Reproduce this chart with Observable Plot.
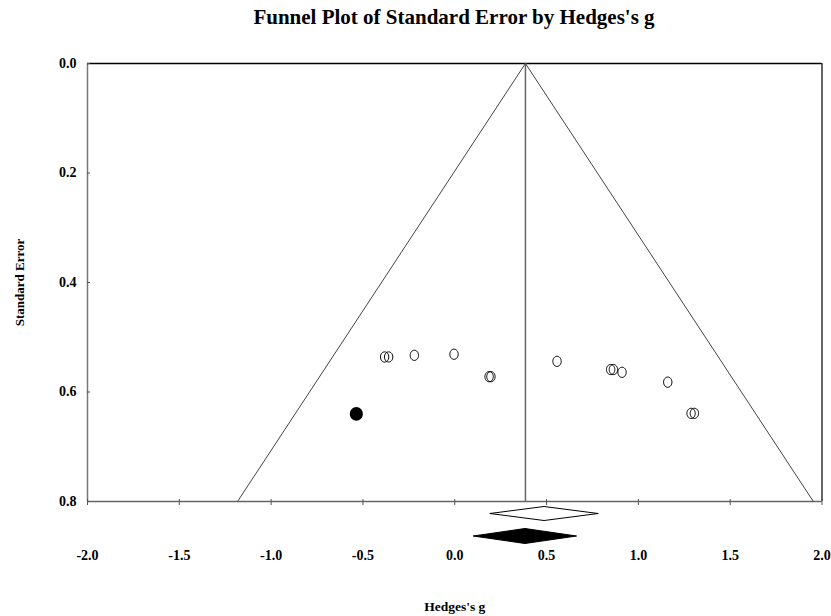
<!DOCTYPE html>
<html>
<head>
<meta charset="utf-8">
<script src="https://cdn.jsdelivr.net/npm/d3@7"></script>
<script src="https://cdn.jsdelivr.net/npm/@observablehq/plot@0.6"></script>
<style>
  body { margin: 0; background: #fff; }
  #wrap { width: 831px; }
  #title {
    height: 40px; box-sizing: border-box; padding-top: 7px; padding-left: 77px;
    text-align: center; font-family: "Liberation Serif", serif; font-weight: bold;
    font-size: 21px; line-height: 1; color: #000;
  }
</style>
</head>
<body>
<div id="wrap">
  <div id="title">Funnel Plot of Standard Error by Hedges's g</div>
  <div id="chart"></div>
</div>
<script>
// ---- data ----
const studyG  = [-0.382, -0.360, -0.220, -0.004, 0.187, 0.197, 0.557, 0.849, 0.864, 0.911, 1.160, 1.287, 1.305];
const studySE = [ 0.536,  0.536,  0.533,  0.531, 0.572, 0.572, 0.544, 0.559, 0.559, 0.564, 0.582, 0.639, 0.639];
const imputedG  = [-0.536];
const imputedSE = [0.640];

const pooledAdjusted = 0.385;   // funnel centre (trim-and-fill estimate)
const observedDiamond = {est: 0.489, lo: 0.194, hi: 0.784};
const adjustedDiamond = {est: 0.385, lo: 0.103, hi: 0.666};

const funnelSE = [0, 0.8];
const xTicks = [-2.0, -1.5, -1.0, -0.5, 0.0, 0.5, 1.0, 1.5, 2.0];
const yTicks = [0.0, 0.2, 0.4, 0.6, 0.8];

// ---- derived tables ----
const studies = studyG.map((g, i) => ({g, se: studySE[i]}));
const imputed = imputedG.map((g, i) => ({g, se: imputedSE[i]}));
const funnel = [
  {g: pooledAdjusted - 1.96 * funnelSE[1], se: funnelSE[1]},
  {g: pooledAdjusted, se: funnelSE[0]},
  {g: pooledAdjusted + 1.96 * funnelSE[1], se: funnelSE[1]}
];
const fmt = d => d.toFixed(1);

function ellipseSymbol(ax, ay) {
  return {
    draw(ctx, size) {
      const r = Math.sqrt(size / Math.PI);
      const n = 32;
      for (let k = 0; k <= n; k++) {
        const t = (k / n) * 2 * Math.PI;
        const px = Math.cos(t) * r * ax, py = Math.sin(t) * r * ay;
        if (k === 0) ctx.moveTo(px, py); else ctx.lineTo(px, py);
      }
      ctx.closePath();
    }
  };
}

function diamonds(index, scales, values, dimensions) {
  const g = d3.create("svg:g");
  const yb = dimensions.height - dimensions.marginBottom;
  const specs = [
    {d: observedDiamond, off: 12.5, h: 7, fill: "#fff"},
    {d: adjustedDiamond, off: 35, h: 7.5, fill: "#000"}
  ];
  for (const s of specs) {
    const x = scales.x;
    const cy = yb + s.off;
    const pts = [[x(s.d.lo), cy], [x(s.d.est), cy - s.h], [x(s.d.hi), cy], [x(s.d.est), cy + s.h]];
    g.append("polygon")
      .attr("points", pts.map(p => p.join(",")).join(" "))
      .attr("fill", s.fill).attr("stroke", "#000").attr("stroke-width", 1);
  }
  return g.node();
}

const chart = Plot.plot({
  width: 831,
  height: 576,
  marginLeft: 87,
  marginRight: 9.5,
  marginTop: 23,
  marginBottom: 115,
  x: {domain: [-2, 2], label: null},
  y: {domain: [0, 0.8], reverse: true, label: null},
  style: {fontFamily: "Liberation Serif, serif", fontWeight: "bold", fontSize: "14px", color: "#000", background: "#fff"},
  marks: [
    // frame sides
    Plot.ruleX([-2], {y1: 0, y2: 0.8, stroke: "#777", strokeWidth: 1.5}),
    Plot.ruleX([2], {y1: 0, y2: 0.8, stroke: "#111", strokeWidth: 1.3}),
    Plot.ruleY([0], {x1: -2, x2: 2, stroke: "#000", strokeWidth: 1.7}),
    Plot.ruleY([0.8], {x1: -2, x2: 2, stroke: "#666", strokeWidth: 1.4}),
    // centre line
    Plot.ruleX([pooledAdjusted], {y1: 0, y2: 0.8, stroke: "#666", strokeWidth: 1.5}),
    // funnel
    Plot.line(funnel, {x: "g", y: "se", stroke: "#444", strokeWidth: 1}),
    // axes
    Plot.axisX(xTicks, {tickSize: 6, dy: -2, text: null, stroke: "#555"}),
    Plot.axisX(xTicks, {tickSize: 0, tickPadding: 49, tickFormat: fmt, fontSize: 14, fontWeight: "bold"}),
    Plot.axisY(yTicks, {tickSize: 3, dx: 3, text: null, stroke: "#555"}),
    Plot.axisY(yTicks, {tickSize: 0, tickPadding: 11, tickFormat: fmt, fontSize: 14, fontWeight: "bold"}),
    // points
    Plot.dot(studies, {x: "g", y: "se", r: 4.65, symbol: ellipseSymbol(0.9, 1.1), stroke: "#000", strokeWidth: 1, fill: "none"}),
    Plot.dot(imputed, {x: "g", y: "se", r: 6.5, symbol: ellipseSymbol(1.0, 1.05), fill: "#000", stroke: "none"}),
    // summary diamonds
    diamonds,
    // axis titles
    Plot.text(["Standard Error"], {frameAnchor: "left", textAnchor: "middle", dx: -68, rotate: -90, fontSize: 13, fontWeight: "bold", fill: "#000"}),
    Plot.text(["Hedges's g"], {frameAnchor: "bottom", textAnchor: "middle", dy: 105, lineAnchor: "middle", fontSize: 13.5, fontWeight: "bold", fill: "#000"})
  ]
});
document.getElementById("chart").appendChild(chart);
</script>
</body>
</html>
